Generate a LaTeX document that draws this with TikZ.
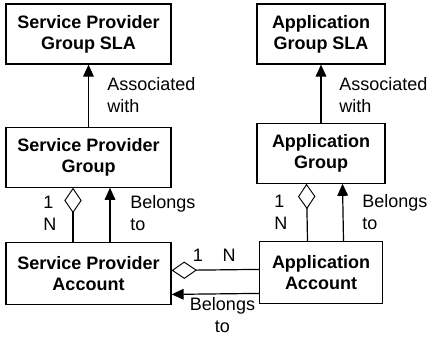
\documentclass[tikz,border=0pt]{standalone}
\usepackage{fontspec}
\setmainfont{Liberation Sans}
\usetikzlibrary{calc,arrows.meta}

\begin{document}
\begin{tikzpicture}[x=0.75pt,y=-0.75pt,
  entity/.style={draw,line width=0.9pt,minimum width=123.75pt,minimum height=45pt,inner sep=0pt,align=center,font=\fontsize{13.5}{15.75}\selectfont\bfseries},
  lbl/.style={inner sep=0pt,align=left,font=\fontsize{13.5}{16.5}\selectfont},
  conn/.style={line width=0.9pt},
  belongs/.style={-{Triangle[length=9pt,width=8pt]}},
  aggr/.style={{Diamond[open,length=19pt,width=13pt,line width=0.7pt]}-}]
  \useasboundingbox (0,0) rectangle (429,337);
  \node[entity] (sp group sla) at (88.5,34) {Service Provider\\Group SLA};
  \node[entity,anchor=north,yshift=-46.5pt] (sp group) at (sp group sla.south) {Service Provider\\Group};
  \node[entity,minimum height=46.5pt,anchor=north,yshift=-40.5pt] (sp account) at (sp group.south) {Service Provider\\Account};
  \node[entity,minimum width=96pt] (app group sla) at (321,34) {Application\\Group SLA};
  \node[entity,minimum width=96pt,anchor=north,yshift=-43.5pt] (app group) at (app group sla.south) {Application\\Group};
  \node[entity,minimum width=92.25pt,minimum height=46.5pt,anchor=north,yshift=-42.75pt] (app account) at (app group.south) {Application\\Account};
  \draw[conn,belongs] (sp group.north) -- (sp group sla.south);
  \draw[conn,belongs] (app group.north) -- (app group sla.south);
  \draw[conn,aggr] ($ (sp group.south) + (-15.5,0) $) -- ($ (sp account.north) + (-15.5,0) $);
  \draw[conn,belongs] ($ (sp account.north) + (21.5,0) $) -- ($ (sp group.south) + (21.5,0) $);
  \draw[conn,aggr] ($ (app group.south) + (-14.5,0) $) -- ($ (app account.north) + (-13.5,0) $);
  \draw[conn,belongs] ($ (app account.north) + (22.5,0) $) -- ($ (app group.south) + (21.5,0) $);
  \draw[conn,aggr] ($ (sp account.east) + (0,-3) $) -- ($ (app account.west) + (0,-3) $);
  \draw[conn,belongs] ($ (app account.west) + (0,21) $) -- ($ (sp account.east) + (0,21) $);
  \node[lbl,anchor=west] (sp assoc) at (107,95) {Associated\\with};
  \node[lbl,anchor=west] (app assoc) at (339,95) {Associated\\with};
  \node[lbl,anchor=west] (sp mult) at (43,213) {1\\N};
  \node[lbl,anchor=west] (sp belongs) at (130,213) {Belongs\\to};
  \node[lbl,anchor=west] (app mult) at (274,212) {1\\N};
  \node[lbl,anchor=west] (app belongs) at (362,212) {Belongs\\to};
  \node[lbl] (acc one) at (198,255) {1};
  \node[lbl] (acc many) at (229,255) {N};
  \node[lbl,align=center] (acc belongs) at (222.5,315) {Belongs\\to};
\end{tikzpicture}
\end{document}
